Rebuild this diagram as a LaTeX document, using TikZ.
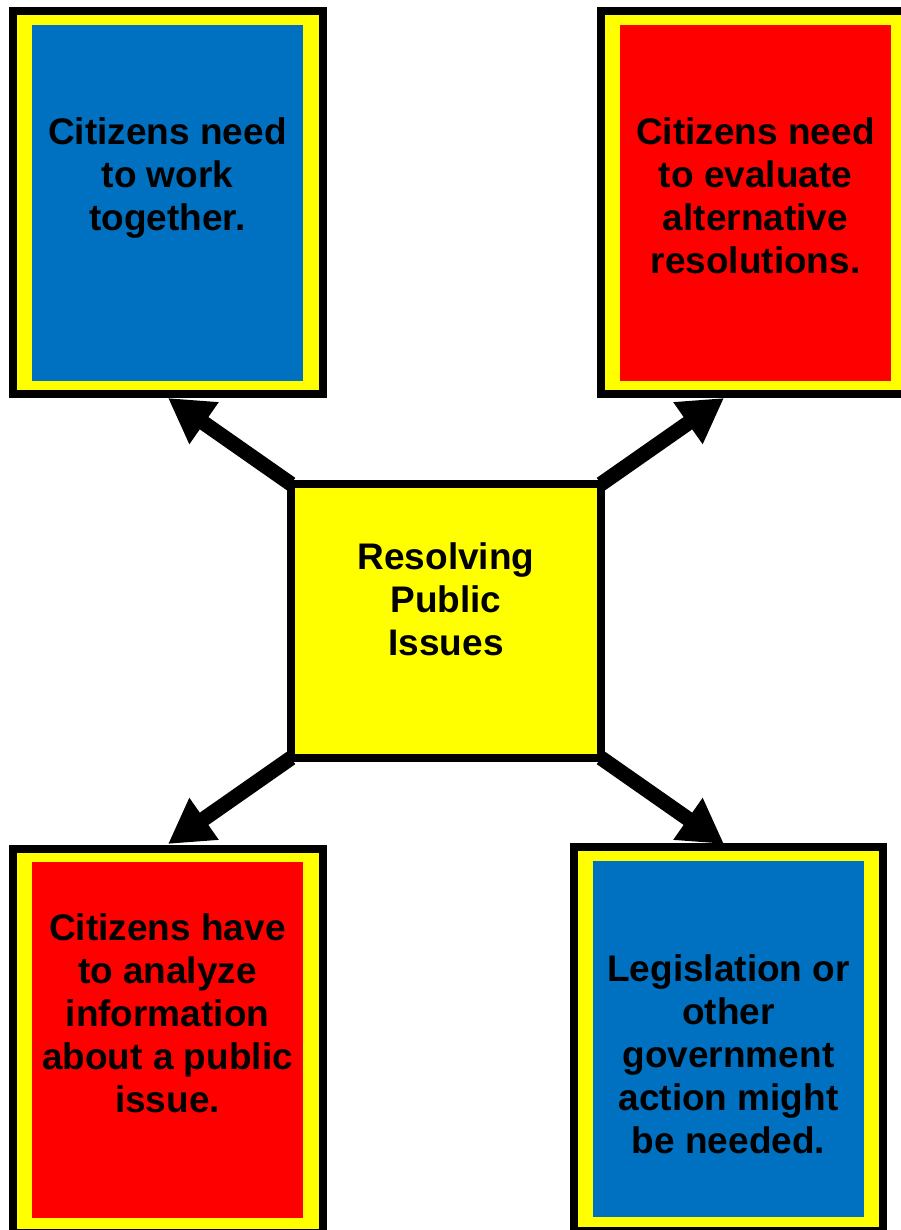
\documentclass[tikz,border=0pt]{standalone}
\usepackage{fontspec}
\setmainfont{Liberation Sans}
\usetikzlibrary{arrows.meta}
\definecolor{boxblue}{RGB}{0,112,192}
\definecolor{boxred}{RGB}{255,0,0}
\definecolor{boxyellow}{RGB}{255,255,0}
\begin{document}
\begin{tikzpicture}[x=1pt,y=-1pt,
  frame/.style={draw=black,line width=8pt,fill=boxyellow,inner sep=0pt,outer sep=0pt},
  panel/.style={inner sep=0pt,outer sep=0pt,minimum width=271pt,minimum height=356pt},
  label/.style={font=\fontsize{37}{43}\selectfont\bfseries,align=center,inner sep=0pt,text=black},
  conn/.style={line width=15pt,line cap=butt,-{Triangle[length=44pt,width=48pt]}},
]
\path[use as bounding box] (0,0) rectangle (901,1230);
\clip (0,0) rectangle (901,1230);

% outer frames
\node[frame,minimum width=310pt,minimum height=383pt] (tl) at (168,202.5) {};
\node[frame,minimum width=310pt,minimum height=383pt] (tr) at (756,202.5) {};
\node[frame,minimum width=310pt,minimum height=384pt] (bl) at (168,1041) {};
\node[frame,minimum width=309pt,minimum height=384pt] (br) at (728.5,1039) {};

% coloured panels
\node[panel,fill=boxblue] (tlp) at (167.5,203) {};
\node[panel,fill=boxred] (trp) at (755.5,203) {};
\node[panel,fill=boxred] (blp) at (167.5,1040) {};
\node[panel,fill=boxblue] (brp) at (728.5,1039) {};

% centre box
\node[frame,minimum width=310pt,minimum height=274pt] (c) at (446,621) {};

% texts
\node[label] (tlt) at (167.5,178.4) {Citizens need\\to work\\together.};
\node[label] (trt) at (755.5,196) {Citizens need\\to evaluate\\alternative\\resolutions.};
\node[label] (blt) at (167.5,1013.5) {Citizens have\\to analyze\\information\\about a public\\issue.};
\node[label] (brt) at (728.5,1054.5) {Legislation or\\other\\government\\action might\\be needed.};
\node[label] (ct) at (446,599.5) {Resolving\\Public\\Issues};

% arrow tips
\coordinate (tltip) at (168,398);
\coordinate (trtip) at (724,398);
\coordinate (bltip) at (168,844);
\coordinate (brtip) at (724,844);

% connectors
\draw[conn] (c.north west) -- (tltip);
\draw[conn] (c.north east) -- (trtip);
\draw[conn] (c.south west) -- (bltip);
\draw[conn] (c.south east) -- (brtip);
\end{tikzpicture}
\end{document}
